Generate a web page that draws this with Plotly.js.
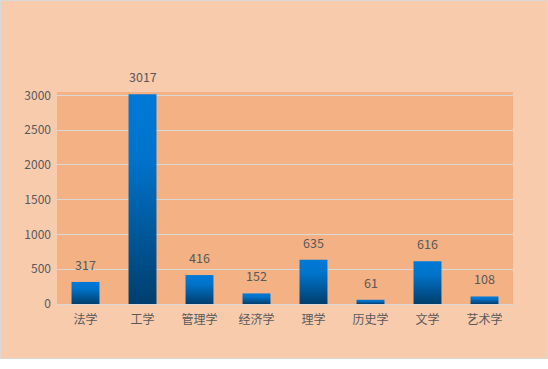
<!DOCTYPE html>
<html>
<head>
<meta charset="utf-8">
<script src="https://cdn.plot.ly/plotly-3.0.1.min.js"></script>
<style>
html,body{margin:0;padding:0;background:#ffffff;}
#wrap{position:relative;width:548px;height:359px;}
#chart{width:548px;height:359px;}
#wrap::after{content:"";position:absolute;left:0;top:0;right:0;bottom:0;border:1px solid #d9d9d9;pointer-events:none;}
</style>
</head>
<body>
<div id="wrap"><div id="chart"></div></div>
<script>
const categories = ["法学", "工学", "管理学", "经济学", "理学", "历史学", "文学", "艺术学"];
const values = [317, 3017, 416, 152, 635, 61, 616, 108];
const yTicks = [0, 500, 1000, 1500, 2000, 2500, 3000];

const font = {family: '"Microsoft YaHei", "Noto Sans CJK SC", sans-serif', size: 12, color: '#595959'};

const trace = {
  type: 'bar',
  x: categories,
  y: values,
  width: 0.49,
  marker: {color: '#0070c8', line: {width: 0}},
  hoverinfo: 'x+y'
};

const annotations = categories.map((c, i) => ({
  x: c, y: values[i], xref: 'x', yref: 'y',
  text: String(values[i]), showarrow: false,
  yanchor: 'bottom', yshift: 6,
  font: {family: font.family, size: 12.5, color: '#595959'}
}));

const layout = {
  width: 548, height: 359,
  margin: {l: 57, r: 34.5, t: 92, b: 55},
  paper_bgcolor: '#f8cbad',
  plot_bgcolor: '#f4b183',
  font: font,
  showlegend: false,
  bargap: 0.51,
  xaxis: {
    type: 'category', showgrid: false, zeroline: false,
    showline: true, linecolor: '#d9d9d9', linewidth: 1,
    ticks: '', tickfont: font, fixedrange: true,
    ticklabelstandoff: 5
  },
  yaxis: {
    range: [0, 3048], tickvals: yTicks, ticktext: yTicks.map(String),
    showgrid: true, gridcolor: '#d9d9d9', gridwidth: 1,
    zeroline: false, showline: false, ticks: '',
    ticklabelstandoff: 5,
    tickfont: font, fixedrange: true
  },
  annotations: annotations
};

Plotly.newPlot('chart', [trace], layout, {displayModeBar: false, staticPlot: true}).then(gd => {
  const svg = gd.querySelector('svg.main-svg');
  const ns = 'http://www.w3.org/2000/svg';
  let defs = svg.querySelector('defs');
  if (!defs) { defs = document.createElementNS(ns, 'defs'); svg.insertBefore(defs, svg.firstChild); }
  const lg = document.createElementNS(ns, 'linearGradient');
  lg.setAttribute('id', 'barGrad');
  lg.setAttribute('x1', '0'); lg.setAttribute('y1', '0');
  lg.setAttribute('x2', '0'); lg.setAttribute('y2', '1');
  [['0', '#0079d6'], ['0.3', '#0074cc'], ['1', '#003e6d']].forEach(([o, c]) => {
    const s = document.createElementNS(ns, 'stop');
    s.setAttribute('offset', o); s.setAttribute('stop-color', c);
    lg.appendChild(s);
  });
  defs.appendChild(lg);
  gd.querySelectorAll('.bars .point path').forEach(p => { p.style.fill = 'url(#barGrad)'; });
});
</script>
</body>
</html>
